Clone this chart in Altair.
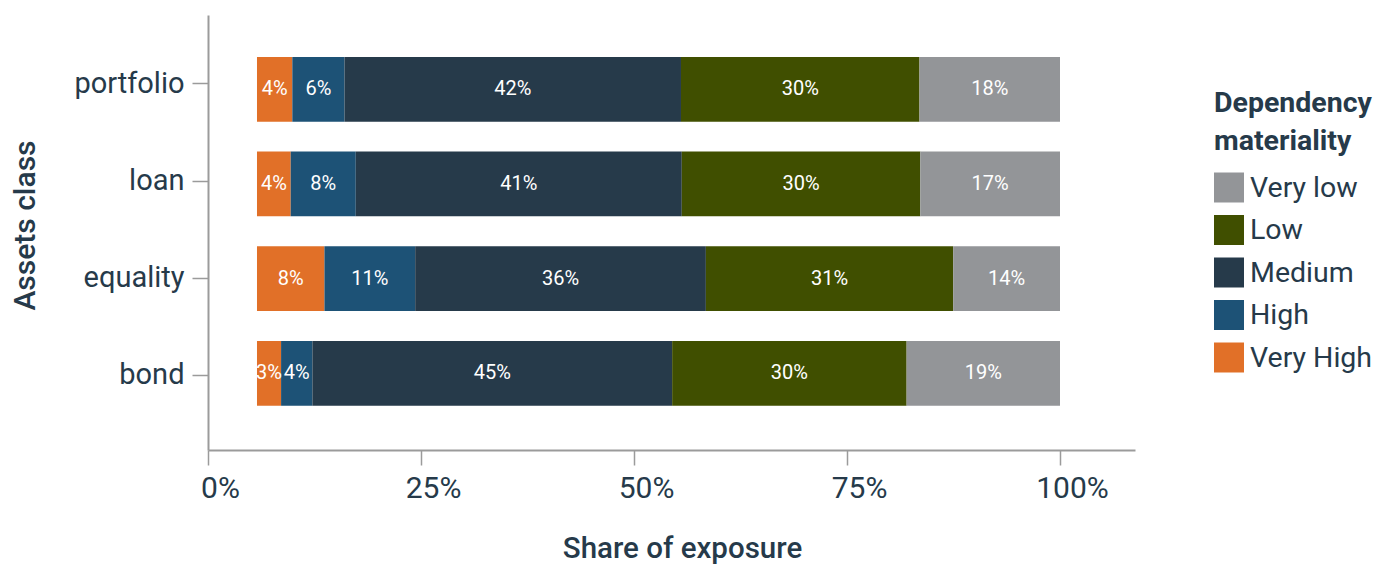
import altair as alt
import pandas as pd

# ---- data ----
assets = ["portfolio", "loan", "equality", "bond"]
levels_stack = ["Very High", "High", "Medium", "Low", "Very low"]
legend_order = ["Very low", "Low", "Medium", "High", "Very High"]

very_high = [4.4, 4.2, 8.4, 3.0]
high = [6.5, 8.1, 11.3, 3.9]
medium = [41.9, 40.6, 36.2, 44.8]
low = [29.7, 29.7, 30.8, 29.2]
very_low = [17.5, 17.4, 13.3, 19.1]

label_very_high = ["4%", "4%", "8%", "3%"]
label_high = ["6%", "8%", "11%", "4%"]
label_medium = ["42%", "41%", "36%", "45%"]
label_low = ["30%", "30%", "31%", "30%"]
label_very_low = ["18%", "17%", "14%", "19%"]

x_ticks = [0, 0.25, 0.5, 0.75, 1.0]
bar_start = 0.0575  # bars begin slightly right of 0 on the axis

colors = ["#939598", "#404F00", "#263A4A", "#1D5276", "#E17028"]
text_color = "#263A4A"
axis_color = "#9B9B9B"

# ---- build table ----
series = {
    "Very High": (very_high, label_very_high),
    "High": (high, label_high),
    "Medium": (medium, label_medium),
    "Low": (low, label_low),
    "Very low": (very_low, label_very_low),
}
rows = []
for i, a in enumerate(assets):
    cum = 0.0
    for lv in levels_stack:
        vals, labs = series[lv]
        v = vals[i]
        x0 = bar_start + (1 - bar_start) * cum / 100.0
        cum += v
        x1 = bar_start + (1 - bar_start) * cum / 100.0
        rows.append({"asset": a, "level": lv, "value": v, "x0": x0, "x1": x1,
                     "xm": (x0 + x1) / 2, "label": labs[i]})
df = pd.DataFrame(rows)
df_axis = pd.DataFrame({"asset": assets})

W, H = 927, 435
x_scale = alt.Scale(domain=[0, W / 852.0], nice=False, zero=False)
y_bar_scale = alt.Scale(type="band", paddingInner=0.3166, paddingOuter=0.4558, align=0.486)

bars = alt.Chart(df).mark_bar(stroke=None).encode(
    x=alt.X("x0:Q", scale=x_scale,
            axis=alt.Axis(values=x_ticks, format=".0%", title="Share of exposure",
                          grid=False, domainColor=axis_color, domainWidth=2,
                          tickColor=axis_color, tickWidth=1.5, tickSize=15,
                          labelFontSize=30, labelColor=text_color, labelPadding=8,
                          labelFlush=False, labelOffset=12,
                          titleFontSize=29.5, titleFontWeight=500, titleColor=text_color,
                          titleX=474, titleAlign="center", titlePadding=31)),
    x2="x1:Q",
    y=alt.Y("asset:N", sort=assets, scale=y_bar_scale, axis=None),
    color=alt.Color("level:N",
                    scale=alt.Scale(domain=legend_order, range=colors),
                    title=["Dependency", "materiality"],
                    legend=alt.Legend(orient="none", legendX=1006, legendY=74,
                                      padding=0, symbolType="square", symbolSize=900,
                                      symbolStrokeWidth=0, symbolOpacity=1,
                                      labelFontSize=28.5, labelColor=text_color,
                                      labelOffset=6, rowPadding=12.5,
                                      titleFontSize=28.5, titleFontWeight="bold",
                                      titleColor=text_color, titleLineHeight=38,
                                      titlePadding=17)),
)

texts = alt.Chart(df).mark_text(fontSize=20, color="white", align="center",
                                baseline="middle").encode(
    x=alt.X("xm:Q", scale=x_scale),
    y=alt.Y("asset:N", sort=assets, scale=y_bar_scale, axis=None),
    text="label:N",
)

axis_layer = alt.Chart(df_axis).mark_point(opacity=0).encode(
    x=alt.value(0),
    y=alt.Y("asset:N", sort=assets,
            scale=alt.Scale(type="point", padding=0.737, align=0.4766),
            axis=alt.Axis(orient="left", title="Assets class", domainColor=axis_color,
                          domainWidth=2, tickColor=axis_color, tickWidth=1.5,
                          tickSize=16, labelFontSize=29, labelColor=text_color,
                          labelPadding=8, titleFontSize=30, titleFontWeight=500,
                          titleColor=text_color, titleAngle=-90, titleX=-168,
                          titleY=210, titleBaseline="bottom", titleAlign="center")),
)

chart = alt.layer(alt.layer(bars, texts), axis_layer).resolve_scale(y="independent").properties(
    width=W, height=H,
    autosize=alt.AutoSizeParams(type="none"),
    padding={"left": 200, "top": 7, "right": 250, "bottom": 115},
).configure(font="Roboto").configure_view(stroke=None)

chart.save("out.html", embed_options={"renderer": "svg", "actions": False})
